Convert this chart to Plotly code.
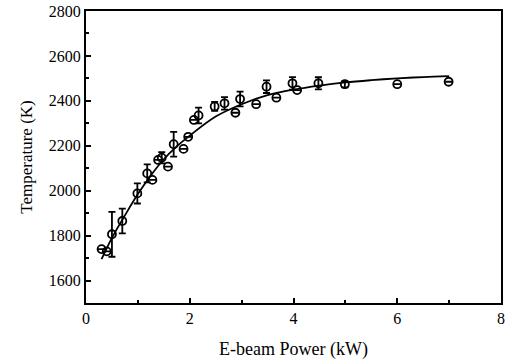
import plotly.graph_objects as go

# Measured data points (E-beam power in kW, temperature in K, error half-width in K)
power_kw = [0.30, 0.40, 0.50, 0.70, 0.99, 1.18, 1.28, 1.39, 1.46, 1.58, 1.69, 1.88, 1.97,
            2.08, 2.17, 2.48, 2.67, 2.88, 2.97, 3.28, 3.48, 3.67, 3.98, 4.07, 4.48, 4.99,
            6.00, 6.99]
temp_k = [1740, 1730, 1806, 1865, 1988, 2077, 2048, 2137, 2147, 2107, 2207, 2186, 2240,
          2315, 2335, 2375, 2389, 2347, 2408, 2385, 2463, 2414, 2478, 2448, 2478, 2474,
          2474, 2485]
temp_err = [0, 0, 100, 55, 45, 40, 0, 0, 25, 0, 55, 0, 0,
            0, 35, 20, 28, 0, 33, 0, 28, 0, 28, 0, 27, 14,
            0, 0]

# Fitted curve
curve_x = [0.3, 0.5, 0.75, 1.0, 1.25, 1.5, 1.75, 2.0, 2.5, 3.0, 3.5, 4.0, 4.5, 5.0, 5.5, 6.0, 6.5, 7.0]
curve_y = [1695, 1790, 1890, 1985, 2068, 2140, 2197, 2245, 2330, 2385, 2425, 2450, 2468, 2482,
           2492, 2500, 2506, 2510]

x_ticks = [0, 2, 4, 6, 8]
y_ticks = [1600, 1800, 2000, 2200, 2400, 2600, 2800]

fig = go.Figure()
fig.add_trace(go.Scatter(
    x=curve_x, y=curve_y, mode="lines", line=dict(color="black", width=1.8, shape="spline", smoothing=1.0),
    hoverinfo="skip", showlegend=False))
fig.add_trace(go.Scatter(
    x=power_kw, y=temp_k, mode="markers",
    marker=dict(symbol="circle-open", size=8, color="black", line=dict(width=1.8, color="black")),
    error_y=dict(type="data", array=temp_err, visible=True, color="black", thickness=1.8, width=3.5),
    showlegend=False))

font_family = "Liberation Serif, Times New Roman, serif"
fig.update_layout(
    width=507, height=360,
    margin=dict(l=86, r=6, t=11, b=57),
    paper_bgcolor="white", plot_bgcolor="white",
    font=dict(family=font_family, size=16, color="black"),
)
fig.update_xaxes(
    range=[0, 8], tickvals=x_ticks, ticktext=[str(v) for v in x_ticks],
    ticks="inside", ticklen=5, tickwidth=1.5, tickcolor="black",
    minor=dict(ticks="inside", dtick=1, ticklen=3, tickwidth=1.5, tickcolor="black", showgrid=False),
    showline=True, linecolor="black", linewidth=2, mirror=True, showgrid=False, zeroline=False,
    automargin=False,
    tickfont=dict(size=16), title=dict(text="E-beam Power (kW)", font=dict(size=18), standoff=16),
)
fig.update_yaxes(
    range=[1500, 2800], tickvals=y_ticks, ticktext=[str(v) for v in y_ticks],
    ticks="inside", ticklen=5, tickwidth=1.5, tickcolor="black",
    minor=dict(ticks="inside", dtick=100, ticklen=3, tickwidth=1.5, tickcolor="black", showgrid=False),
    showline=True, linecolor="black", linewidth=2, mirror=True, showgrid=False, zeroline=False,
    automargin=False,
    tickfont=dict(size=16), title=dict(text="Temperature (K)", font=dict(size=17), standoff=12),
)

fig.write_html("out.html",
               config={"displayModeBar": False},
               post_script="document.body.style.margin='0';document.body.style.overflow='hidden';")
